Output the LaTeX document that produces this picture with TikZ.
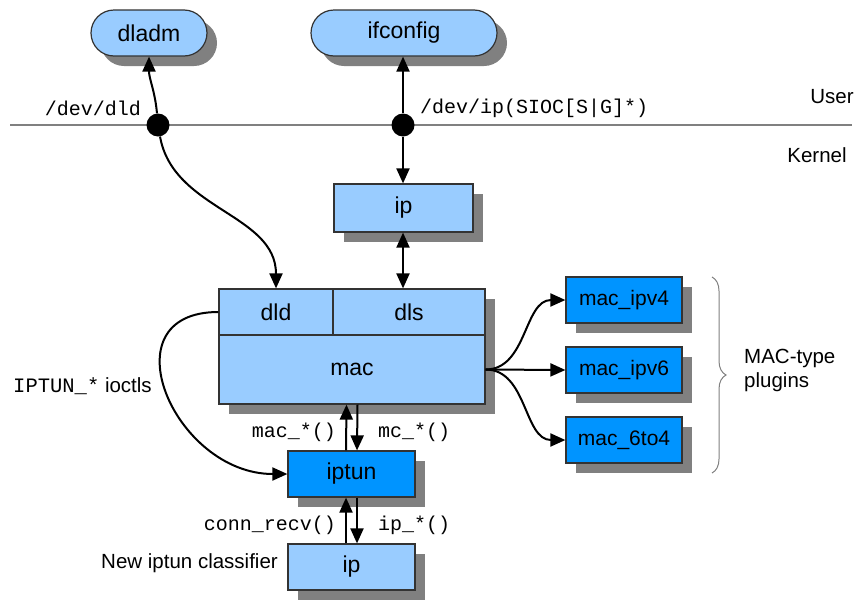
\documentclass[tikz,border=0pt]{standalone}
\usepackage{fontspec}
\setmainfont{Liberation Sans}
\setmonofont{Liberation Mono}
\usepackage{tikz}
\usetikzlibrary{positioning,shadows,arrows.meta,decorations.pathreplacing}
\definecolor{lightblue}{HTML}{99CCFF}
\definecolor{darkblue}{HTML}{0094FF}
\definecolor{edgegray}{HTML}{333333}
\definecolor{shadowgray}{HTML}{808080}

\tikzset{
  box/.style={draw=edgegray, line width=1.2pt, fill=lightblue, inner sep=0pt,
    font=\fontsize{23}{26}\selectfont},
  shbox/.style={box, drop shadow={shadow xshift=10pt, shadow yshift=-10pt,
    fill=shadowgray, opacity=1}},
  plugin/.style={shbox, fill=darkblue, minimum width=116pt, minimum height=46pt,
    font=\fontsize{21}{24}\selectfont},
  pill/.style={shbox, rounded corners=23pt, minimum height=46pt},
  dot/.style={circle, fill=black, minimum size=23pt, inner sep=0pt},
  lbl/.style={font=\fontsize{20.5}{24}\selectfont, inner sep=0pt},
  code/.style={font=\fontsize{20}{24}\selectfont\ttfamily, inner sep=0pt},
  arr/.style={line width=2pt, >={Triangle[length=15pt,width=13pt]}},
}

\begin{document}
\begin{tikzpicture}[x=1pt, y=-1pt]
\useasboundingbox (0,0) rectangle (858,600);

\node[pill, minimum width=116pt] (dladm) at (149,33) {dladm};
\node[pill, minimum width=186pt] (ifconfig) at (404,33) {ifconfig};

\draw[shadowgray, line width=1.5pt] (10,125) -- (852,125);
\node[dot] (dotl) at (158,125) {};
\node[dot] (dotr) at (403,125) {};

\node[code, anchor=east] (devdld) at (141,108) {/dev/dld};
\node[code, anchor=west] (devip) at (420,108) {/dev/ip(SIOC[S|G]*)};
\node[lbl] (user) at (832,97) {User};
\node[lbl] (kernel) at (817,155) {Kernel};

\node[shbox, minimum width=139pt, minimum height=48pt] (ipu) at (403.5,208) {ip};

% data-link core
\node[shbox, minimum width=114pt, minimum height=46pt] (dld) at (276,312) {dld};
\node[shbox, minimum width=152pt, minimum height=46pt] (dls) at (409,312) {dls};
\node[shbox, minimum width=266pt, minimum height=69pt] (mac) at (352,369.5) {mac};

\node[plugin] (ipv4) at (624,300) {mac\_ipv4};
\node[plugin] (ipv6) at (624,370) {mac\_ipv6};
\node[plugin] (sixto4) at (624,440) {mac\_6to4};

\draw[decorate, decoration={brace, amplitude=14pt}, shadowgray, line width=1pt]
  (712,277) -- (712,473);
\node[lbl, anchor=west, align=left] (plugins) at (744,370) {MAC-type\\plugins};

\node[shbox, fill=darkblue, minimum width=127pt, minimum height=46pt] (iptun) at (351.5,474) {iptun};
\node[shbox, minimum width=127pt, minimum height=46pt] (ipb) at (351.5,567) {ip};

\node[anchor=west, inner sep=0pt] (ioctls) at (13,386)
  {\fontsize{20.5}{24}\selectfont\texttt{IPTUN\_*} ioctls};
\node[code, anchor=east] (macfn) at (336,432) {mac\_*()};
\node[code, anchor=west] (mcfn) at (378,432) {mc\_*()};
\node[code, anchor=east] (connrecv) at (336,525) {conn\_recv()};
\node[code, anchor=west] (ipfn) at (378,525) {ip\_*()};
\node[lbl, anchor=east] (classifier) at (278,563) {New iptun classifier};

\draw[arr,->] (dotl) to[out=95,in=-90] (dladm.south);
\draw[arr,->] (dotl) to[out=-80,in=90] (dld.north);
\draw[arr,->] (dotr) -- (ifconfig.south -| dotr);
\draw[arr,->] (dotr) -- (ipu.north -| dotr);
\draw[arr,<->] (ipu.south -| dotr) -- (dls.north -| dotr);

\draw[arr,->] (mac.east) to[out=0,in=180] (ipv4.west);
\draw[arr,->] (mac.east) -- (ipv6.west);
\draw[arr,->] (mac.east) to[out=0,in=180] (sixto4.west);

\draw[arr,->] (dld.west) to[out=180,in=180,looseness=1.65] (iptun.west);
\draw[arr,->] ([xshift=-5.5pt]iptun.north) -- ([xshift=-5.5pt]mac.south);
\draw[arr,->] ([xshift=5.5pt]mac.south) -- ([xshift=5.5pt]iptun.north);
\draw[arr,->] ([xshift=-5.5pt]ipb.north) -- ([xshift=-5.5pt]iptun.south);
\draw[arr,->] ([xshift=5.5pt]iptun.south) -- ([xshift=5.5pt]ipb.north);
\end{tikzpicture}
\end{document}
